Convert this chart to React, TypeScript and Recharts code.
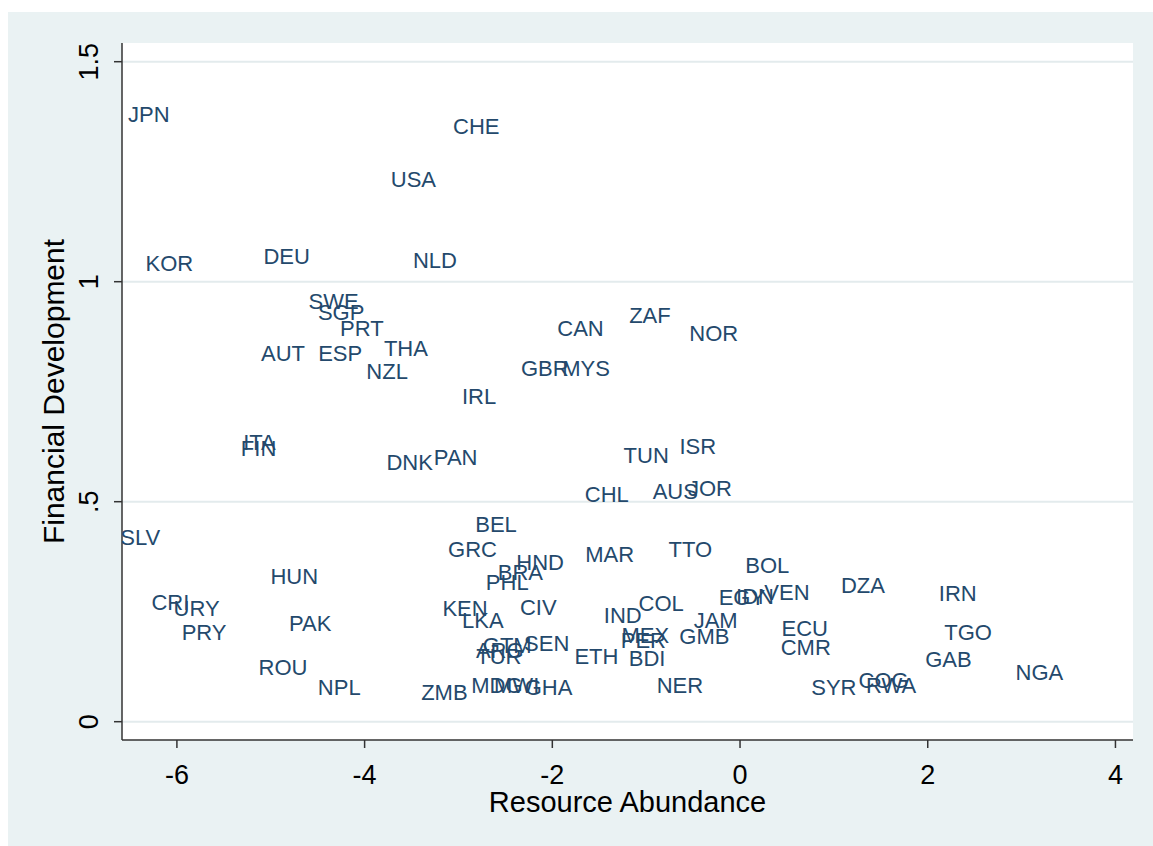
import { ScatterChart, Scatter, XAxis, YAxis, CartesianGrid } from 'recharts';

const countryCodes = [
  'JPN', 'CHE', 'USA', 'NLD', 'KOR', 'DEU', 'SWE', 'SGP', 'PRT', 'THA',
  'AUT', 'ESP', 'NZL', 'IRL', 'ITA', 'FIN', 'DNK', 'PAN', 'CAN', 'ZAF',
  'NOR', 'GBR', 'MYS', 'TUN', 'ISR', 'CHL', 'AUS', 'JOR', 'BEL', 'GRC',
  'MAR', 'TTO', 'HND', 'BRA', 'PHL', 'BOL', 'VEN', 'EGY', 'IDN', 'DZA',
  'IRN', 'HUN', 'CRI', 'URY', 'PRY', 'PAK', 'ROU', 'NPL', 'SLV', 'KEN',
  'LKA', 'CIV', 'IND', 'COL', 'JAM', 'GMB', 'MEX', 'PER', 'BDI', 'ETH',
  'SEN', 'GTM', 'ARG', 'TUR', 'MDG', 'MWI', 'GHA', 'ZMB', 'NER', 'ECU',
  'CMR', 'TGO', 'GAB', 'NGA', 'SYR', 'COG', 'RWA',
];

const resourceAbundance = [
  -6.30, -2.81, -3.48, -3.25, -6.08, -4.83, -4.33, -4.25, -4.03, -3.56,
  -4.87, -4.26, -3.76, -2.78, -5.12, -5.13, -3.52, -3.03, -1.70, -0.96,
  -0.28, -2.08, -1.64, -1.00, -0.45, -1.42, -0.69, -0.32, -2.60, -2.85,
  -1.39, -0.53, -2.13, -2.34, -2.48, 0.29, 0.50, 0.02, 0.16, 1.31,
  2.32, -4.75, -6.07, -5.79, -5.71, -4.58, -4.87, -4.27, -6.39, -2.93,
  -2.74, -2.15, -1.25, -0.84, -0.26, -0.38, -1.01, -1.03, -0.99, -1.53,
  -2.06, -2.48, -2.56, -2.57, -2.59, -2.38, -2.04, -3.15, -0.64, 0.69,
  0.70, 2.43, 2.22, 3.19, 1.00, 1.53, 1.61,
];

const financialDevelopment = [
  1.381, 1.354, 1.233, 1.049, 1.043, 1.058, 0.956, 0.931, 0.895, 0.849,
  0.838, 0.838, 0.797, 0.740, 0.636, 0.622, 0.590, 0.602, 0.895, 0.924,
  0.883, 0.804, 0.804, 0.606, 0.627, 0.518, 0.524, 0.531, 0.449, 0.393,
  0.381, 0.393, 0.363, 0.340, 0.318, 0.356, 0.295, 0.283, 0.286, 0.311,
  0.292, 0.331, 0.272, 0.258, 0.204, 0.224, 0.124, 0.079, 0.420, 0.258,
  0.231, 0.261, 0.243, 0.270, 0.231, 0.195, 0.197, 0.186, 0.145, 0.149,
  0.179, 0.174, 0.163, 0.149, 0.083, 0.083, 0.079, 0.068, 0.083, 0.213,
  0.170, 0.204, 0.143, 0.113, 0.079, 0.095, 0.083,
];

const xTicks = [-6, -4, -2, 0, 2, 4];
const yTicks = [0, 0.5, 1, 1.5];
const yTickLabels = ['0', '.5', '1', '1.5'];

const FONT = '"Liberation Sans", Arial, sans-serif';
const BG = '#eaf2f3';
const INK = '#24496c';

const data = countryCodes.map((code, i) => ({
  code,
  x: resourceAbundance[i],
  y: financialDevelopment[i],
}));

function CodeLabel(props: any) {
  const { cx, cy, payload } = props;
  if (cx == null || cy == null) return null;
  return (
    <text
      x={cx}
      y={cy}
      dy="0.36em"
      textAnchor="middle"
      fontFamily={FONT}
      fontSize={22}
      fill={INK}
    >
      {payload.code}
    </text>
  );
}

function XTick(props: any) {
  const { x, y, payload } = props;
  return (
    <text x={x} y={y + 26} dy="0.36em" textAnchor="middle" fontFamily={FONT} fontSize={27} fill="#000">
      {payload.value}
    </text>
  );
}

function YTick(props: any) {
  const { x, y, payload } = props;
  const idx = yTicks.indexOf(payload.value);
  return (
    <g transform={`translate(${x - 26},${y}) rotate(-90)`}>
      <text x={0} y={0} dy="0.36em" textAnchor="middle" fontFamily={FONT} fontSize={27} fill="#000">
        {idx >= 0 ? yTickLabels[idx] : payload.value}
      </text>
    </g>
  );
}

export default function App() {
  return (
    <div style={{ width: 1145, height: 834, padding: '12px 0 0 8px', background: '#fff' }}>
      <style>{'body { margin: 0; }'}</style>
      <div style={{ width: 1145, height: 834, background: BG }}>
        <ScatterChart width={1145} height={834} margin={{ top: 31, right: 20, bottom: 0, left: 0 }}>
          <CartesianGrid
            horizontal
            vertical={false}
            stroke="#e3ebed"
            strokeWidth={2}
            fill="#ffffff"
            fillOpacity={1}
            horizontalValues={yTicks}
          />
          <XAxis
            type="number"
            dataKey="x"
            domain={[-6.585, 4.187]}
            ticks={xTicks}
            allowDataOverflow
            height={106}
            tickSize={8}
            tickMargin={0}
            stroke="#333"
            strokeWidth={1.5}
            tick={<XTick />}
            label={{
              content: (p: any) => {
                const vb = p.viewBox || {};
                return (
                  <text x={vb.x + vb.width / 2} y={vb.y + 62} dy="0.36em" textAnchor="middle" fontFamily={FONT} fontSize={29} fill="#000">
                    Resource Abundance
                  </text>
                );
              },
            }}
          />
          <YAxis
            type="number"
            dataKey="y"
            domain={[-0.0416, 1.5425]}
            ticks={yTicks}
            allowDataOverflow
            width={114}
            tickSize={8}
            tickMargin={0}
            stroke="#333"
            strokeWidth={1.5}
            tick={<YTick />}
            label={{
              content: (p: any) => {
                const vb = p.viewBox || {};
                const cy = vb.y + vb.height / 2;
                return (
                  <g transform={`translate(45,${cy}) rotate(-90)`}>
                    <text x={0} y={0} dy="0.36em" textAnchor="middle" fontFamily={FONT} fontSize={30} fill="#000">
                      Financial Development
                    </text>
                  </g>
                );
              },
            }}
          />
          <Scatter data={data} shape={<CodeLabel />} isAnimationActive={false} />
        </ScatterChart>
      </div>
    </div>
  );
}
